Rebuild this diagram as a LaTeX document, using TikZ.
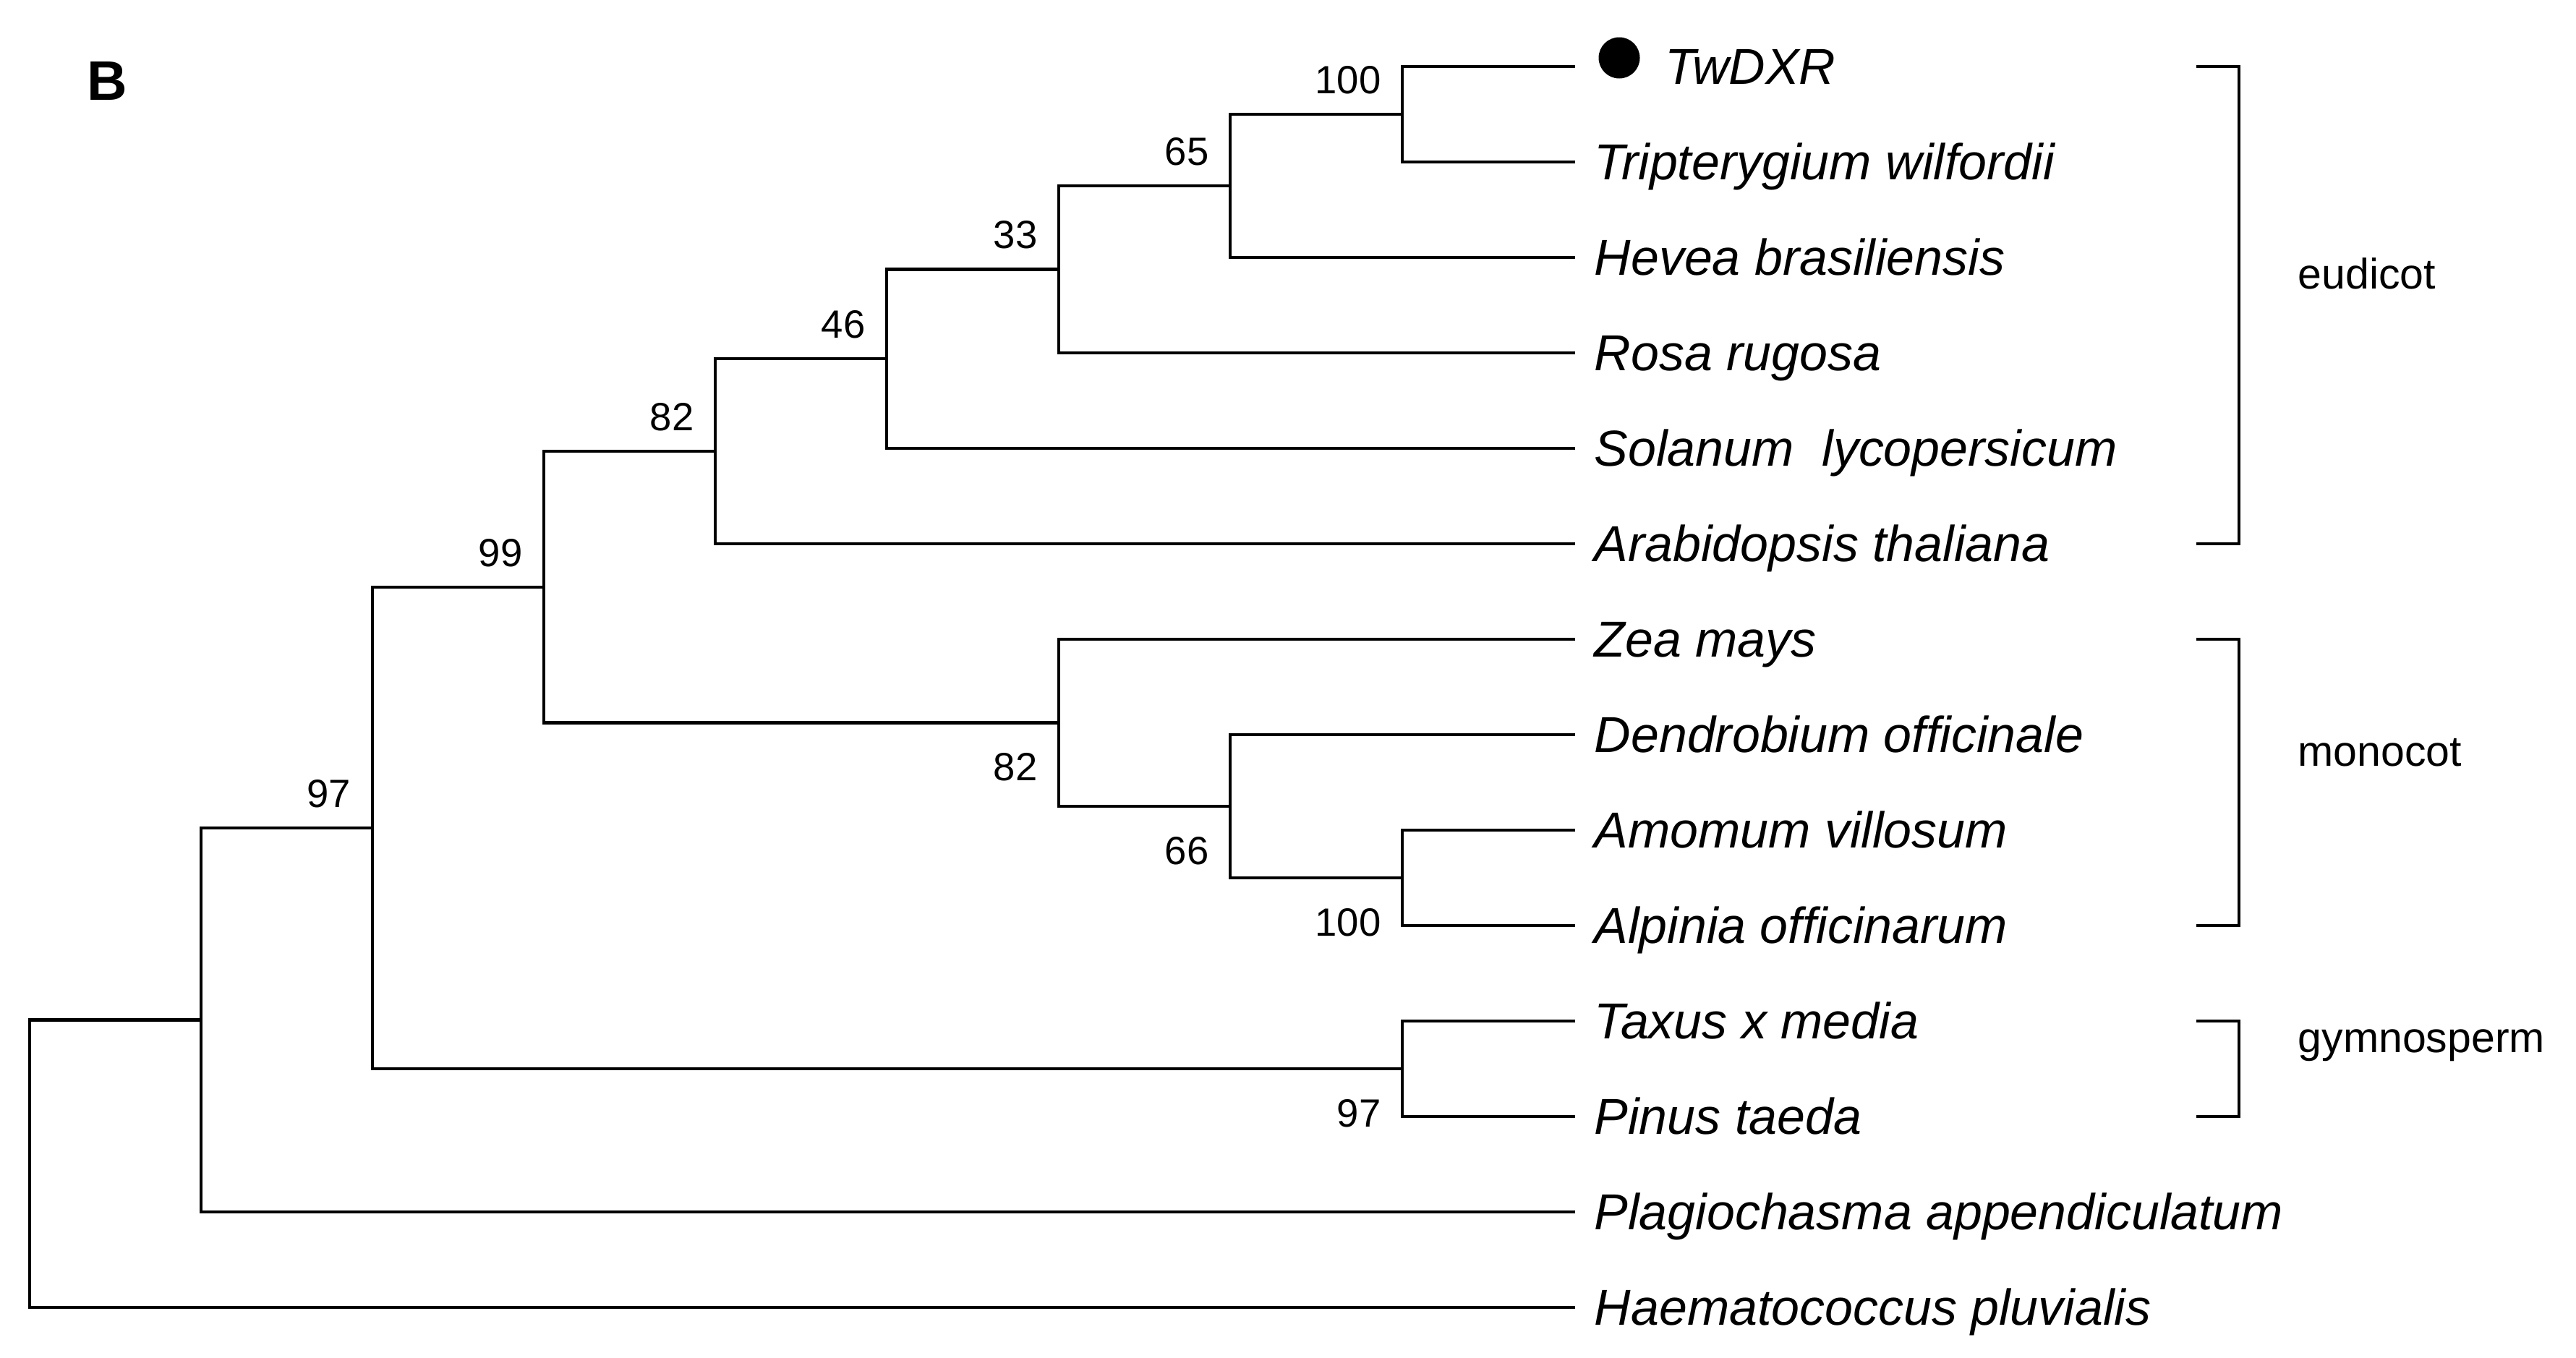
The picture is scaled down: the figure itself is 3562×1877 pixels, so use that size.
\documentclass[tikz,border=0pt]{standalone}
\usepackage{fontspec}
\setmainfont{Liberation Sans}
\begin{document}
\begin{tikzpicture}[
		x=0.1mm, y=-0.1mm,
		branch/.style={line width=1.3pt},
		bracket/.style={line width=1.15pt},
		leaf/.style={anchor=base west, inner sep=0pt, xshift=2.6mm, yshift=-2.4mm,
			font=\fontsize{19.9}{24}\selectfont\itshape},
		bsup/.style={anchor=base east, inner sep=0pt, xshift=-2.9mm, yshift=2.9mm,
			font=\fontsize{15.5}{18}\selectfont},
		bsdown/.style={anchor=base east, inner sep=0pt, xshift=-2.9mm, yshift=-8.0mm,
			font=\fontsize{15.5}{18}\selectfont},
		group/.style={anchor=base west, inner sep=0pt,
			font=\fontsize{16.8}{20}\selectfont}
		]
		\useasboundingbox (0,0) rectangle (3562,1877);
		
		% ---- Panel letter ----
		\node[anchor=base west, inner sep=0pt, font=\fontsize{21.9}{26}\selectfont\bfseries]
			(panel) at (120,138) {B};
		
		% ---- Tips (end of every leaf branch) ----
		\coordinate (tw)  at (2178,  92);
		\coordinate (trw) at (2178, 224);
		\coordinate (hbr) at (2178, 356);
		\coordinate (rru) at (2178, 488);
		\coordinate (sly) at (2178, 620);
		\coordinate (ath) at (2178, 752);
		\coordinate (zma) at (2178, 884);
		\coordinate (dof) at (2178,1016);
		\coordinate (avi) at (2178,1148);
		\coordinate (aof) at (2178,1280);
		\coordinate (tme) at (2178,1412);
		\coordinate (pta) at (2178,1544);
		\coordinate (pap) at (2178,1676);
		\coordinate (hpl) at (2178,1808);
		
		% ---- Internal nodes ----
		\coordinate (nTw)    at (1939, 158);
		\coordinate (nHev)   at (1701, 257);
		\coordinate (nRos)   at (1464, 372.5);
		\coordinate (nSol)   at (1226, 496);
		\coordinate (nEud)   at ( 989, 624);
		\coordinate (nAlp)   at (1939,1214);
		\coordinate (nDen)   at (1701,1115);
		\coordinate (nMono)  at (1464, 999.5);
		\coordinate (nAngio) at ( 752, 812);
		\coordinate (nGym)   at (1939,1478);
		\coordinate (nSeed)  at ( 515,1145);
		\coordinate (nLand)  at ( 278,1410.5);
		\coordinate (nRoot)  at (  41,1609);
		
		% ---- Branches ----
		\draw[branch] (nTw) |- (tw);
		\draw[branch] (nTw) |- (trw);
		\draw[branch] (nHev) |- (nTw);
		\draw[branch] (nHev) |- (hbr);
		\draw[branch] (nRos) |- (nHev);
		\draw[branch] (nRos) |- (rru);
		\draw[branch] (nSol) |- (nRos);
		\draw[branch] (nSol) |- (sly);
		\draw[branch] (nEud) |- (nSol);
		\draw[branch] (nEud) |- (ath);
		
		\draw[branch] (nAlp) |- (avi);
		\draw[branch] (nAlp) |- (aof);
		\draw[branch] (nDen) |- (dof);
		\draw[branch] (nDen) |- (nAlp);
		\draw[branch] (nMono) |- (zma);
		\draw[branch] (nMono) |- (nDen);
		
		\draw[branch] (nAngio) |- (nEud);
		\draw[branch] (nAngio) |- (nMono);
		
		\draw[branch] (nGym) |- (tme);
		\draw[branch] (nGym) |- (pta);
		
		\draw[branch] (nSeed) |- (nAngio);
		\draw[branch] (nSeed) |- (nGym);
		\draw[branch] (nLand) |- (nSeed);
		\draw[branch] (nLand) |- (pap);
		\draw[branch] (nRoot) |- (nLand);
		\draw[branch] (nRoot) |- (hpl);
		
		% ---- Bootstrap values ----
		\node[bsup] (bsTw)    at (nTw)    {100};
		\node[bsup] (bsHev)   at (nHev)   {65};
		\node[bsup] (bsRos)   at (nRos)   {33};
		\node[bsup] (bsSol)   at (nSol)   {46};
		\node[bsup] (bsEud)   at (nEud)   {82};
		\node[bsup] (bsAngio) at (nAngio) {99};
		\node[bsup] (bsSeed)  at (nSeed)  {97};
		\node[bsdown] (bsMono) at (nMono) {82};
		\node[bsdown] (bsDen)  at (nDen)  {66};
		\node[bsdown] (bsAlp)  at (nAlp)  {100};
		\node[bsdown] (bsGym)  at (nGym)  {97};
		
		% ---- Leaf labels ----
		\node[circle, fill=black, inner sep=0pt, minimum size=5.7mm] (dot) at (2239,80) {};
		\node[leaf] (twlab) at (2276,92) {TwDXR};
		\node[leaf] (trwlab) at (trw) {Tripterygium wilfordii};
		\node[leaf] (hbrlab) at (hbr) {Hevea brasiliensis};
		\node[leaf] (rrulab) at (rru) {Rosa rugosa};
		\node[leaf] (slylab) at (sly) {Solanum\ \ lycopersicum};
		\node[leaf] (athlab) at (ath) {Arabidopsis thaliana};
		\node[leaf] (zmalab) at (zma) {Zea mays};
		\node[leaf] (doflab) at (dof) {Dendrobium officinale};
		\node[leaf] (avilab) at (avi) {Amomum villosum};
		\node[leaf] (aoflab) at (aof) {Alpinia officinarum};
		\node[leaf] (tmelab) at (tme) {Taxus x media};
		\node[leaf] (ptalab) at (pta) {Pinus taeda};
		\node[leaf] (paplab) at (pap) {Plagiochasma appendiculatum};
		\node[leaf] (hpllab) at (hpl) {Haematococcus pluvialis};
		
		% ---- Groups ----
		\draw[bracket] (3037,  92) -| (3096, 752) -- (3037, 752);
		\draw[bracket] (3037, 884) -| (3096,1280) -- (3037,1280);
		\draw[bracket] (3037,1412) -| (3096,1544) -- (3037,1544);
		\node[group] (eudicot) at (3177, 399) {eudicot};
		\node[group] (monocot) at (3177,1059) {monocot};
		\node[group] (gymno)   at (3177,1455) {gymnosperm};
	\end{tikzpicture}
\end{document}
